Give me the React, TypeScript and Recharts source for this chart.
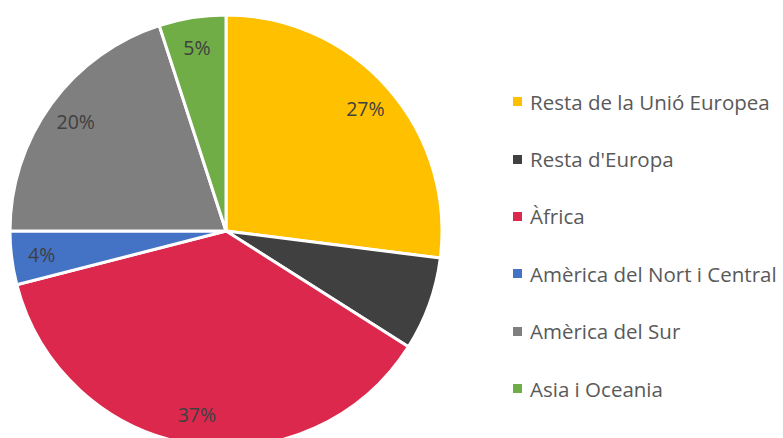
import { PieChart, Pie, Cell, Legend } from 'recharts';

const regions = [
  'Resta de la Unió Europea',
  "Resta d'Europa",
  'Àfrica',
  'Amèrica del Nort i Central',
  'Amèrica del Sur',
  'Asia i Oceania',
];
const shares = [27, 7, 37, 4, 20, 5];
const colors = ['#FFC000', '#404040', '#DC284C', '#4472C4', '#7F7F7F', '#70AD47'];

const data = regions.map((name, i) => ({ name, value: shares[i], color: colors[i] }));

const RADIAN = Math.PI / 180;

const renderLabel = ({ cx, cy, midAngle, outerRadius, value }: any) => {
  const r = outerRadius * 0.86;
  const x = cx + r * Math.cos(-midAngle * RADIAN);
  const y = cy + r * Math.sin(-midAngle * RADIAN);
  return (
    <text
      x={x}
      y={y}
      fill="#404040"
      fontSize={19.5}
      fontFamily="'Open Sans', sans-serif"
      textAnchor="middle"
      dominantBaseline="central"
    >
      {`${value}%`}
    </text>
  );
};

const CustomLegend = () => (
  <div style={{ fontFamily: "'Open Sans', sans-serif", fontSize: 20.5, color: '#595959' }}>
    {data.map((entry) => (
      <div
        key={entry.name}
        style={{ display: 'flex', alignItems: 'center', height: 57.4, whiteSpace: 'nowrap' }}
      >
        <span
          style={{
            display: 'inline-block',
            width: 9,
            height: 9,
            background: entry.color,
            marginRight: 8,
          }}
        />
        {entry.name}
      </div>
    ))}
  </div>
);

const App = () => {
  return (
    <div style={{ position: 'absolute', top: 0, left: 0, background: '#fff' }}>
      <PieChart width={783} height={438} margin={{ top: 0, right: 0, bottom: 0, left: 0 }}>
        <Pie
          data={data}
          dataKey="value"
          cx={226}
          cy={231}
          outerRadius={216}
          startAngle={90}
          endAngle={-270}
          stroke="#ffffff"
          strokeWidth={3}
          label={renderLabel}
          labelLine={false}
          isAnimationActive={false}
        >
          {data.map((entry, index) => (
            <Cell key={`cell-${index}`} fill={entry.color} />
          ))}
        </Pie>
        <Legend
          content={<CustomLegend />}
          wrapperStyle={{ position: 'absolute', left: 513, top: 73, width: 270 }}
        />
      </PieChart>
    </div>
  );
};

export default App;
